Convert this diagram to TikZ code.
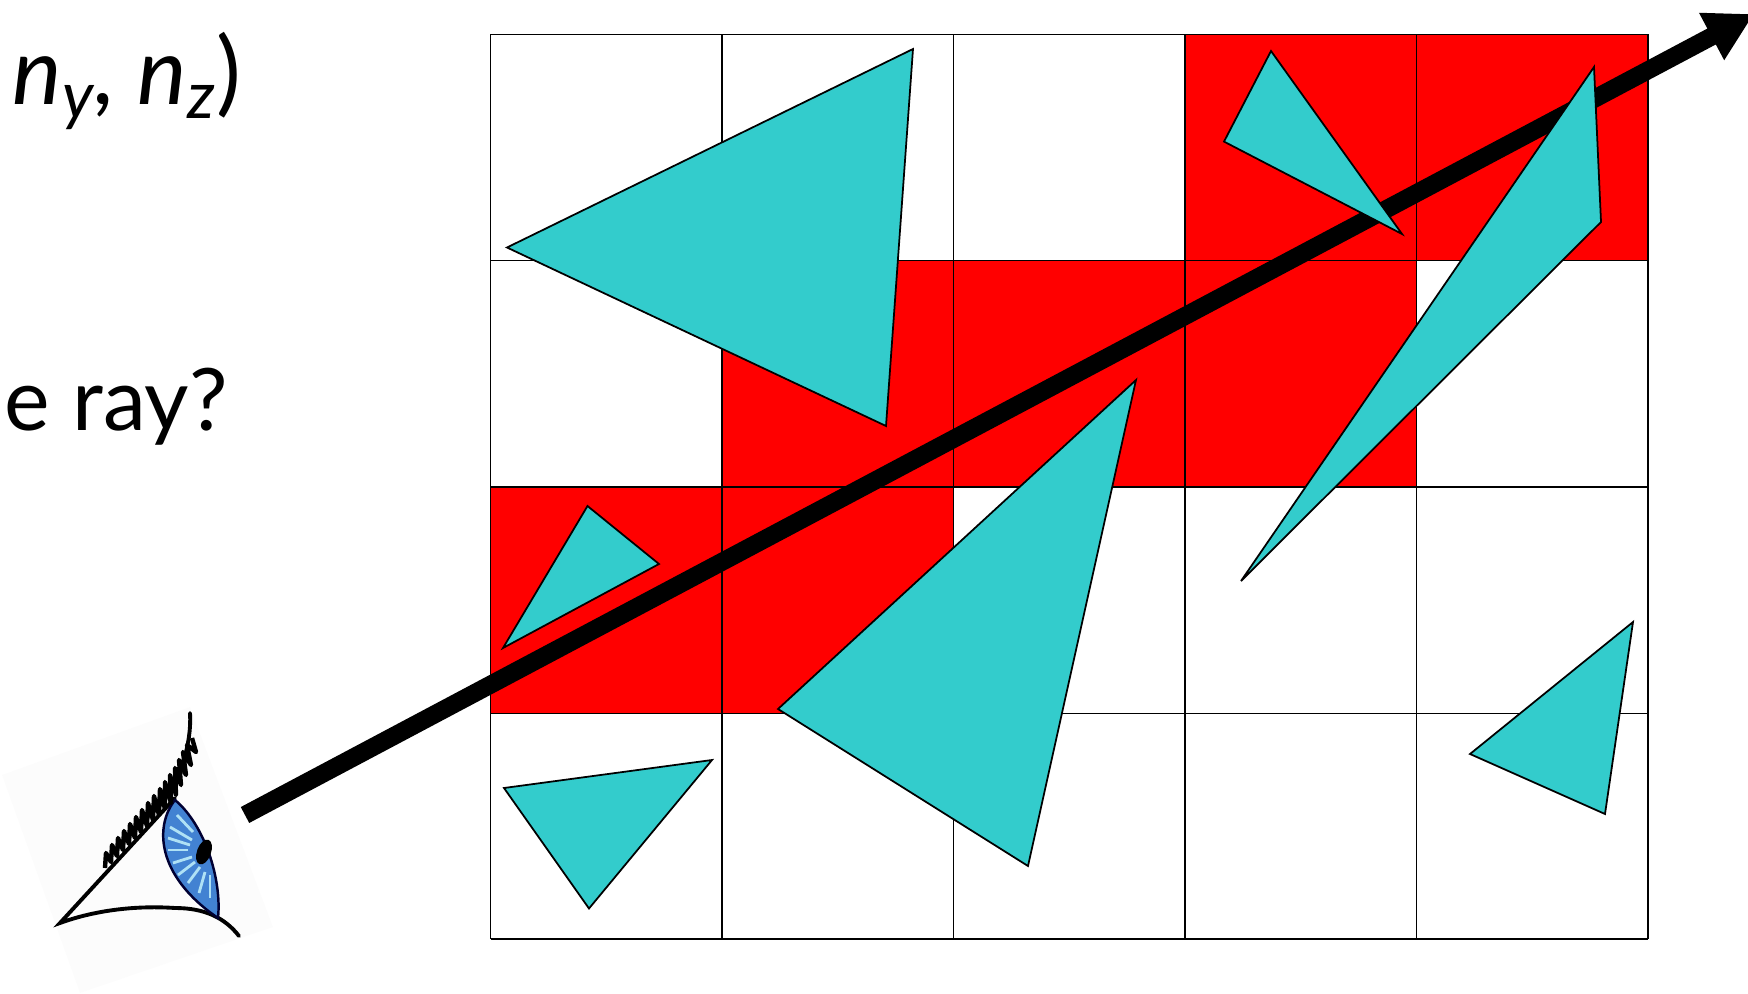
\documentclass[tikz,border=0pt]{standalone}
\usepackage{fontspec}
\setmainfont{Lato}
\usepackage{xcolor}
\usetikzlibrary{arrows.meta}

\definecolor{cellred}{RGB}{255,0,0}
\definecolor{tricyan}{RGB}{51,204,204}
\definecolor{irisblue}{RGB}{66,130,210}
\definecolor{raylight}{RGB}{175,225,245}

\begin{document}
\begin{tikzpicture}[
    x=0.01cm, y=-0.01cm,
    cell/.style={fill=cellred, draw=none},
    gridline/.style={draw=black, line width=0.5pt},
    tri/.style={draw=black, fill=tricyan, line width=0.5pt, line join=miter},
    raybeam/.style={draw=black, line width=0.18cm, -{Triangle[length=0.48cm, width=0.5cm]}},
    lid/.style={draw=black, line width=1.1pt, line cap=round},
    lash/.style={draw=black, line width=1.25pt, line join=round},
    irisray/.style={draw=raylight, line width=0.8pt},
    label/.style={anchor=base west, inner sep=0pt}
]
    \useasboundingbox (0, 0) rectangle (1748, 994);

    % Texte
    \node[label, font=\fontsize{26.5}{30}\selectfont] (normal) at (12, 105) {\textit{n\textsubscript{y}, n\textsubscript{z}})};
    \node[label, font=\fontsize{24.5}{28}\selectfont] (question) at (4, 430) {e ray?};

    % Cases rouges
    \fill[cell] (1185, 34.5) rectangle (1648, 260.5);
    \fill[cell] (722, 260.5) rectangle (1416.5, 487);
    \fill[cell] (490.5, 487) rectangle (953.5, 713.5);

    % Grille
    \draw[gridline] (490.5, 34.5) -- (490.5, 939);
    \draw[gridline] (722, 34.5) -- (722, 939);
    \draw[gridline] (953.5, 34.5) -- (953.5, 939);
    \draw[gridline] (1185, 34.5) -- (1185, 939);
    \draw[gridline] (1416.5, 34.5) -- (1416.5, 939);
    \draw[gridline] (1648, 34.5) -- (1648, 939);
    \draw[gridline] (490.5, 34.5) -- (1648, 34.5);
    \draw[gridline] (490.5, 260.5) -- (1648, 260.5);
    \draw[gridline] (490.5, 487) -- (1648, 487);
    \draw[gridline] (490.5, 713.5) -- (1648, 713.5);
    \draw[gridline] (490.5, 939) -- (1648, 939);

    % Rayon
    \coordinate (ray_start) at (245, 815);
    \coordinate (ray_tip) at (1754, 14);
    \draw[raybeam] (ray_start) -- (ray_tip);

    % Triangles
    \draw[tri] (913, 49) -- (507, 247.5) -- (886, 426) -- cycle;
    \draw[tri] (1271, 51) -- (1224, 141.6) -- (1402, 234) -- cycle;
    \draw[tri] (1594, 67) -- (1601, 222) -- (1241, 581) -- cycle;
    \draw[tri] (1136, 380) -- (778, 709) -- (1028, 866) -- cycle;
    \draw[tri] (587.5, 506) -- (659, 564) -- (503, 648) -- cycle;
    \draw[tri] (1633, 622) -- (1470, 754) -- (1605, 814) -- cycle;
    \draw[tri] (712, 760) -- (504, 788) -- (589, 908.5) -- cycle;

    % Oeil
    \fill[black!1] (2, 775) -- (190, 707) -- (273, 927) -- (80, 993) -- cycle;
    \draw[lid] (239, 936) .. controls (225, 918) and (205, 908) .. (175, 908)
        .. controls (130, 905) and (90, 912) .. (60, 923) -- (175, 798);
    \draw[draw=black!80!blue, fill=irisblue, line width=0.7pt] (175, 800)
        .. controls (155, 825) and (155, 875) .. (218, 918)
        .. controls (222, 880) and (205, 825) .. (175, 800) -- cycle;
    \draw[irisray] (177, 815) -- (193, 832);
    \draw[irisray] (170, 827) -- (192, 840);
    \draw[irisray] (168, 838) -- (190, 845);
    \draw[irisray] (168, 850) -- (188, 850);
    \draw[irisray] (173, 863) -- (192, 857);
    \draw[irisray] (178, 875) -- (195, 862);
    \draw[irisray] (188, 883) -- (200, 867);
    \draw[irisray] (199, 893) -- (205, 872);
    \draw[irisray] (210, 898) -- (210, 875);
    \fill[black, rotate around={-20:(204, 852)}] (204, 852) ellipse (7 and 13);
    \draw[lash] (105, 868) -- (106, 853) -- (111, 862) -- (112, 845) -- (117, 856) -- (118, 838)
        -- (123, 850) -- (124, 831) -- (129, 844) -- (130, 824) -- (135, 838) -- (136, 817)
        -- (141, 832) -- (142, 810) -- (147, 826) -- (148, 803) -- (153, 820) -- (154, 796)
        -- (159, 815) -- (160, 789) -- (165, 809) -- (165, 782) -- (171, 803) -- (170, 775)
        -- (176, 795) -- (175, 768) -- (181, 785) -- (179, 760) -- (186, 775) -- (183, 752)
        -- (191, 765) -- (187, 745) -- (196, 752) -- (192, 738);
    \draw[lid] (184, 760) .. controls (188, 745) and (191, 730) .. (190, 713);
\end{tikzpicture}
\end{document}
